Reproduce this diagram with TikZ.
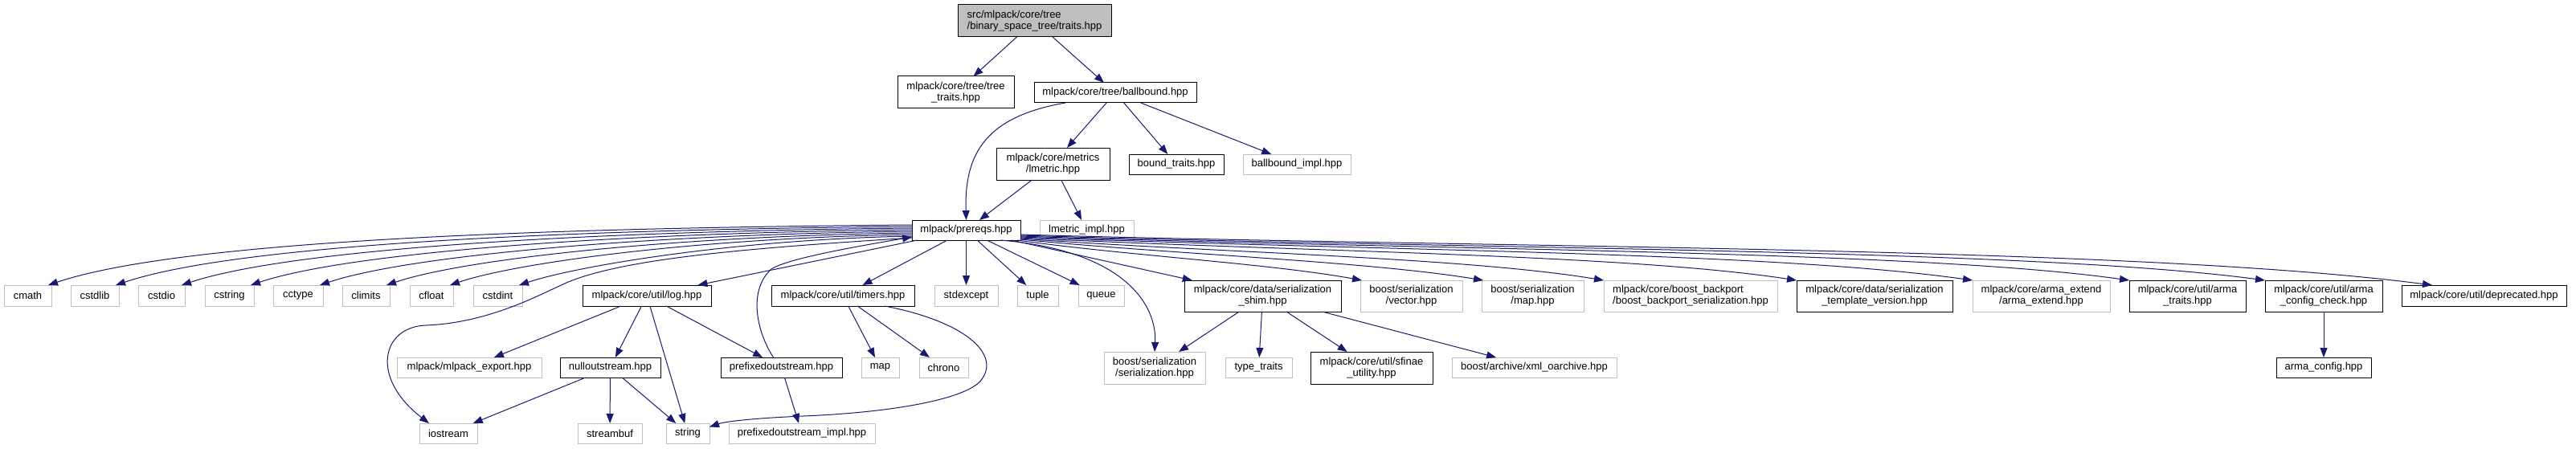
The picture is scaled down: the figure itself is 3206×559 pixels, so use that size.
\documentclass[tikz,border=0pt]{standalone}
\usepackage{fontspec}
\setmainfont{Liberation Sans}
\usetikzlibrary{arrows.meta,calc}
\definecolor{edgeblue}{RGB}{25,25,112}
\definecolor{grayb}{RGB}{191,191,191}
\newcommand\mkbox[6]{\node[#1, minimum width=#4pt, minimum height=#5pt] (#2) at (#3) {#6};}
\begin{document}
\begin{tikzpicture}[x=1pt,y=-1pt,
  every node/.style={inner sep=0pt, outer sep=0pt, font=\fontsize{13}{14}\selectfont, align=center},
  doc/.style={draw=black, line width=1pt, fill=white},
  ext/.style={draw=grayb, line width=1pt, fill=white},
  rootbox/.style={draw=black, line width=1pt, fill=grayb, align=left},
  edge/.style={draw=edgeblue, line width=1pt, -{Triangle[length=12pt,width=9pt]}},
]
\useasboundingbox (0,0) rectangle (3206,559);
\fill[white] (0,0) rectangle (3206,559);

% top
\mkbox{rootbox}{root}{1287.5,26}{191}{40}{src/mlpack/core/tree\\/binary\_space\_tree/traits.hpp}
\mkbox{doc}{tree_traits}{1189.5,115}{145}{40}{mlpack/core/tree/tree\\\_traits.hpp}
\mkbox{doc}{ballbound}{1388,115.5}{202}{25}{mlpack/core/tree/ballbound.hpp}
\mkbox{doc}{lmetric}{1310.5,204}{141}{40}{mlpack/core/metrics\\/lmetric.hpp}
\mkbox{doc}{bound_traits}{1464,204.5}{118}{25}{bound\_traits.hpp}
\mkbox{ext}{ballbound_impl}{1614,204.5}{134}{25}{ballbound\_impl.hpp}
\mkbox{doc}{prereqs}{1202.5,286.5}{135}{25}{mlpack/prereqs.hpp}
\mkbox{ext}{lmetric_impl}{1352.5,286.5}{117}{25}{lmetric\_impl.hpp}

% row 3
\mkbox{ext}{cmath}{34.5,368}{59}{26}{cmath}
\mkbox{ext}{cstdlib}{118,368}{60}{26}{cstdlib}
\mkbox{ext}{cstdio}{201,368}{58}{26}{cstdio}
\mkbox{ext}{cstring}{285.5,368}{61}{26}{cstring}
\mkbox{ext}{cctype}{371,368}{62}{26}{cctype}
\mkbox{ext}{climits}{455.5,368}{59}{26}{climits}
\mkbox{ext}{cfloat}{537,368}{54}{26}{cfloat}
\mkbox{ext}{cstdint}{619.5,368}{61}{26}{cstdint}
\mkbox{doc}{log}{805,368}{160}{26}{mlpack/core/util/log.hpp}
\mkbox{doc}{timers}{1049,368}{178}{26}{mlpack/core/util/timers.hpp}
\mkbox{ext}{stdexcept}{1202.5,368}{79}{26}{stdexcept}
\mkbox{ext}{tuple}{1291.5,368}{51}{26}{tuple}
\mkbox{ext}{queue}{1370.5,368}{57}{26}{queue}
\mkbox{doc}{shim}{1571.5,368.5}{195}{39}{mlpack/core/data/serialization\\\_shim.hpp}
\mkbox{ext}{vector}{1756.5,368.5}{127}{39}{boost/serialization\\/vector.hpp}
\mkbox{ext}{map2}{1907.5,368.5}{127}{39}{boost/serialization\\/map.hpp}
\mkbox{ext,align=left}{backport}{2104,368.5}{216}{39}{mlpack/core/boost\_backport\\/boost\_backport\_serialization.hpp}
\mkbox{doc}{tversion}{2333,368.5}{194}{39}{mlpack/core/data/serialization\\\_template\_version.hpp}
\mkbox{ext}{arma_extend}{2540.5,368.5}{171}{39}{mlpack/core/arma\_extend\\/arma\_extend.hpp}
\mkbox{doc}{arma_traits}{2722.5,368.5}{145}{39}{mlpack/core/util/arma\\\_traits.hpp}
\mkbox{doc}{config_check}{2892,368.5}{146}{39}{mlpack/core/util/arma\\\_config\_check.hpp}
\mkbox{doc}{deprecated}{3091.5,368}{205}{26}{mlpack/core/util/deprecated.hpp}

% row 4
\mkbox{ext}{mlpack_export}{584,457.5}{180}{25}{mlpack/mlpack\_export.hpp}
\mkbox{doc}{nulloutstream}{759.5,457.5}{125}{25}{nulloutstream.hpp}
\mkbox{doc}{prefixedoutstream}{972.5,457.5}{151}{25}{prefixedoutstream.hpp}
\mkbox{ext}{map}{1095.5,457.5}{47}{25}{map}
\mkbox{ext}{chrono}{1174.5,457.5}{61}{25}{chrono}
\mkbox{ext}{bserial}{1437,458}{126}{40}{boost/serialization\\/serialization.hpp}
\mkbox{ext}{type_traits}{1566.5,457.5}{83}{25}{type\_traits}
\mkbox{doc}{sfinae}{1707,458}{152}{40}{mlpack/core/util/sfinae\\\_utility.hpp}
\mkbox{ext}{xml}{1909.5,457.5}{205}{25}{boost/archive/xml\_oarchive.hpp}
\mkbox{doc}{arma_config}{2892,457.5}{118}{25}{arma\_config.hpp}

% row 5
\mkbox{ext}{iostream}{558,539.5}{72}{25}{iostream}
\mkbox{ext}{streambuf}{759,539.5}{80}{25}{streambuf}
\mkbox{ext}{string}{856,539.5}{54}{25}{string}
\mkbox{ext}{prefixed_impl}{998,539.5}{182}{25}{prefixedoutstream\_impl.hpp}

% edges top
\draw[edge] (root) -- (tree_traits);
\draw[edge] (root) -- (ballbound);
\draw[edge] ($(ballbound.south west)+(39,0)$) .. controls (1228,145) and (1200,190) .. (prereqs.north);
\draw[edge] (ballbound) -- (lmetric);
\draw[edge] (ballbound) -- (bound_traits);
\draw[edge] (ballbound) -- (ballbound_impl);
\draw[edge] (lmetric) -- (prereqs);
\draw[edge] (lmetric) -- (lmetric_impl);

% prereqs left fan
\draw[edge] ($(prereqs.north west)+(0,6)$) .. controls (651,284) and (221,301) .. ($(cmath.north east)+(-4,0)$);
\draw[edge] ($(prereqs.north west)+(0,8)$) .. controls (689,286) and (293,305) .. ($(cstdlib.north east)+(-4,0)$);
\draw[edge] ($(prereqs.north west)+(0,10)$) .. controls (726,288) and (362,310) .. ($(cstdio.north east)+(-4,0)$);
\draw[edge] ($(prereqs.north west)+(0,12)$) .. controls (765,290) and (435,314) .. ($(cstring.north east)+(-4,0)$);
\draw[edge] ($(prereqs.north west)+(0,14)$) .. controls (803,292) and (509,318) .. ($(cctype.north east)+(-4,0)$);
\draw[edge] ($(prereqs.north west)+(0,16)$) .. controls (841,294) and (579,322) .. ($(climits.north east)+(-4,0)$);
\draw[edge] ($(prereqs.north west)+(0,18)$) .. controls (876,296) and (646,326) .. ($(cfloat.north east)+(-4,0)$);
\draw[edge] ($(prereqs.north west)+(0,20)$) .. controls (915,298) and (719,331) .. ($(cstdint.north east)+(-4,0)$);
\draw[edge] ($(prereqs.north west)+(0,22)$) .. controls (950,308) and (780,320) .. (705,352)
  .. controls (675,365) and (610,402) .. (530,405)
  .. controls (475,407) and (460,470) .. ($(iostream.north)+(-24,0)$);
\draw[edge] (prereqs) -- (log);
\draw[edge] (prereqs) -- (timers);
\draw[edge] (prereqs) -- (stdexcept);
\draw[edge] (prereqs) -- (tuple);
\draw[edge] (prereqs) -- (queue);
\draw[edge] (prereqs) -- (shim);
\draw[edge] ($(prereqs.south east)+(-25,0)$) .. controls (1400,312) and (1440,380) .. (bserial.north);

% prereqs right fan
\draw[edge] ($(prereqs.south east)+(-4,0)$) .. controls (1400,318) and (1580,328) .. ($(vector.north west)+(2,0)$);
\draw[edge] ($(prereqs.south east)+(0,-1)$) .. controls (1450,316) and (1700,325) .. ($(map2.north west)+(2,0)$);
\draw[edge] ($(prereqs.south east)+(0,-2)$) .. controls (1500,314) and (1820,320) .. (backport.north west);
\draw[edge] ($(prereqs.south east)+(0,-3)$) .. controls (1600,313) and (2020,316) .. (tversion.north west);
\draw[edge] ($(prereqs.south east)+(0,-4)$) .. controls (1700,312) and (2200,313) .. (arma_extend.north west);
\draw[edge] ($(prereqs.south east)+(0,-5)$) .. controls (1750,311) and (2380,311) .. (arma_traits.north west);
\draw[edge] ($(prereqs.south east)+(0,-6)$) .. controls (1800,310) and (2520,309) .. (config_check.north west);
\draw[edge] ($(prereqs.south east)+(0,-7)$) .. controls (1850,309) and (2650,306) .. ($(deprecated.north west)+(38,0)$);

% log
\draw[edge] (log) -- (mlpack_export);
\draw[edge] (log) -- (nulloutstream);
\draw[edge] (log) -- (string);
\draw[edge] (log) -- (prefixedoutstream);
\draw[edge] (nulloutstream) -- (iostream);
\draw[edge] (nulloutstream) -- (streambuf);
\draw[edge] (nulloutstream) -- (string);
\draw[edge] (prefixedoutstream) -- (prefixed_impl);
\draw[edge] ($(prefixedoutstream.north)+(-10,0)$) .. controls (940,410) and (932,360) .. (960,335)
  .. controls (980,322) and (1060,308) .. ($(prereqs.south west)+(0,-4)$);

% timers
\draw[edge] (timers) -- (map);
\draw[edge] (timers) -- (chrono);
\draw[edge] ($(timers.south east)+(-37,0)$) .. controls (1200,400) and (1245,440) .. (1222,472)
  .. controls (1207,495) and (1120,513) .. (1000,518)
  .. controls (950,520) and (905,524) .. ($(string.east)+(0,-8)$);

% shim
\draw[edge] (shim) -- (bserial);
\draw[edge] (shim) -- (type_traits);
\draw[edge] (shim) -- (sfinae);
\draw[edge] (shim) -- (xml);

\draw[edge] (config_check) -- (arma_config);
\end{tikzpicture}
\end{document}
